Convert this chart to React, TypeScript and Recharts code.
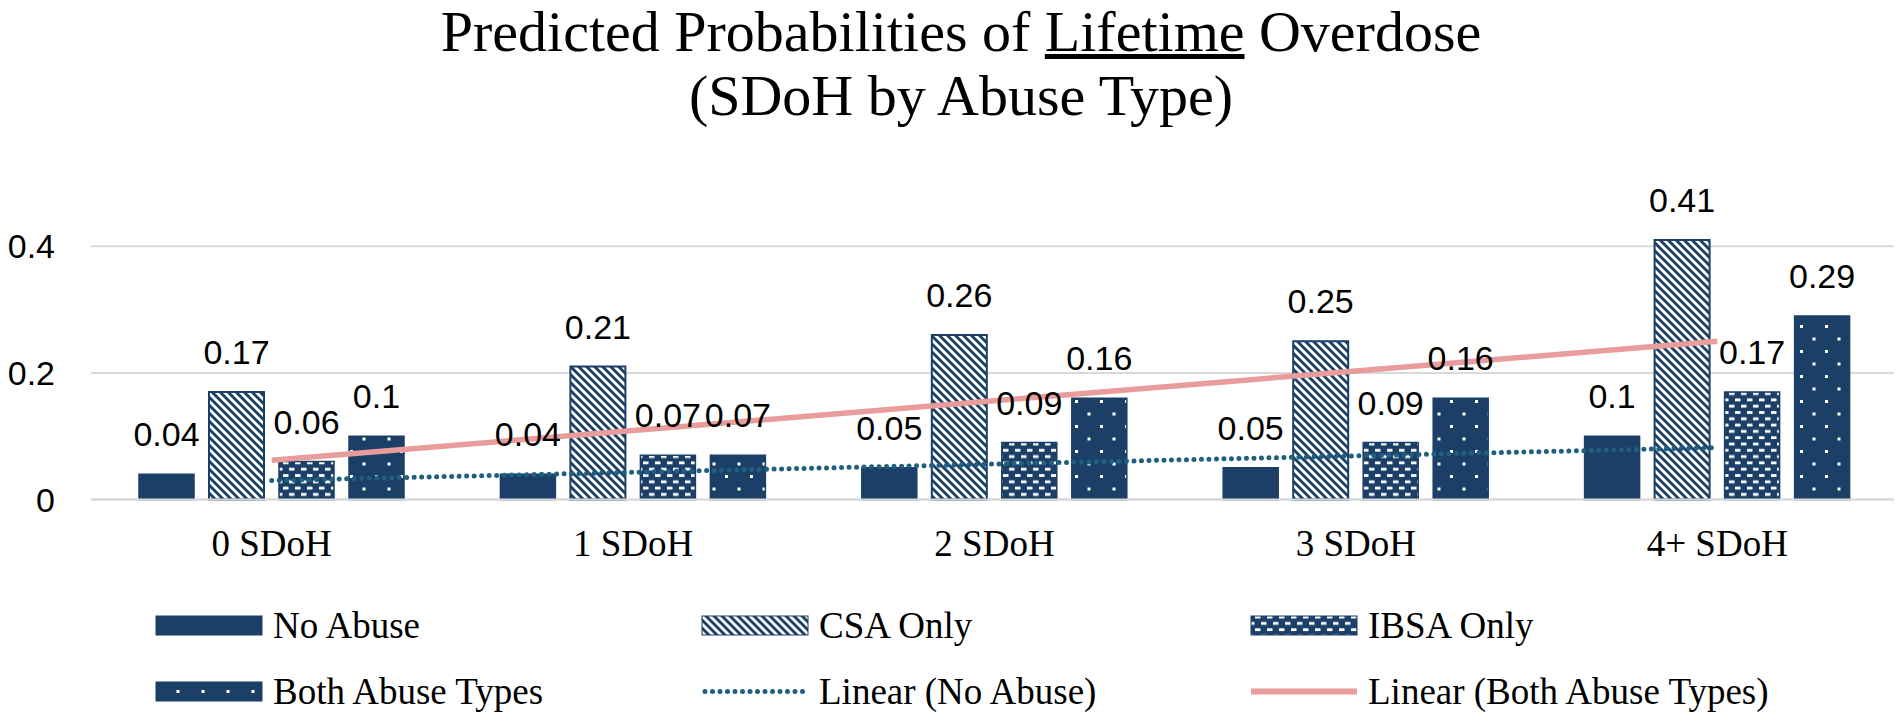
import React from "react";
import { ComposedChart, Bar, Line, XAxis, YAxis, CartesianGrid, Legend, LabelList } from "recharts";

// values
const categories = ["0 SDoH", "1 SDoH", "2 SDoH", "3 SDoH", "4+ SDoH"];
const noAbuse = [0.04, 0.04, 0.05, 0.05, 0.1];
const csaOnly = [0.17, 0.21, 0.26, 0.25, 0.41];
const ibsaOnly = [0.06, 0.07, 0.09, 0.09, 0.17];
const bothTypes = [0.1, 0.07, 0.16, 0.16, 0.29];
// Excel trendlines, read at each category centre
const linearNoAbuse = [0.03, 0.043, 0.056, 0.069, 0.082];
const linearBoth = [0.062, 0.109, 0.156, 0.203, 0.25];
const yTicks = [0, 0.2, 0.4];

const data = categories.map((name, i) => ({
  name,
  noAbuse: noAbuse[i],
  csaOnly: csaOnly[i],
  ibsaOnly: ibsaOnly[i],
  bothTypes: bothTypes[i],
  linearNoAbuse: linearNoAbuse[i],
  linearBoth: linearBoth[i],
}));

const NAVY = "#1b3f66";
const TEAL = "#1f5f80";
const PINK = "#e89c9c";
const GRID = "#d9d9d9";
const SERIF = "'Liberation Serif', 'Times New Roman', serif";
const SANS = "'Liberation Sans', Arial, sans-serif";

function Patterns({ suffix, dotX = 0, dotY = 0 }: { suffix: string; dotX?: number; dotY?: number }) {
  return (
    <defs>
      <pattern id={"csa" + suffix} width={8} height={8} patternUnits="userSpaceOnUse">
        <rect width={8} height={8} fill={NAVY} />
        <path d="M0,0 L8,8 M-4,4 L4,12 M4,-4 L12,4" stroke="#fff" strokeWidth={2.8} />
      </pattern>
      <pattern id={"ibsa" + suffix} width={12} height={12.6} patternUnits="userSpaceOnUse">
        <rect width={12} height={12.6} fill={NAVY} />
        <rect x={1} y={1.6} width={5.5} height={2.8} fill="#fff" />
        <rect x={7} y={7.9} width={5.5} height={2.8} fill="#fff" />
        <rect x={-5} y={7.9} width={5.5} height={2.8} fill="#fff" />
      </pattern>
      <pattern id={"both" + suffix} x={dotX} y={dotY} width={25} height={25} patternUnits="userSpaceOnUse">
        <rect width={25} height={25} fill={NAVY} />
        <rect x={0} y={0} width={3} height={3} fill="#fff" />
        <rect x={12.5} y={12.5} width={3} height={3} fill="#fff" />
      </pattern>
    </defs>
  );
}

const legendCols = [156, 702, 1251];
const legendRows = [55.5, 121.5];
const legendItems = [
  { label: "No Abuse", kind: "bar", fill: NAVY },
  { label: "CSA Only", kind: "bar", fill: "url(#csa-lg)" },
  { label: "IBSA Only", kind: "bar", fill: "url(#ibsa-lg)" },
  { label: "Both Abuse Types", kind: "bar", fill: "url(#both-lg)" },
  { label: "Linear (No Abuse)", kind: "dots", fill: TEAL },
  { label: "Linear (Both Abuse Types)", kind: "line", fill: PINK },
];

function ChartLegend() {
  return (
    <svg width={1898} height={153.5} style={{ display: "block" }}>
      <Patterns suffix="-lg" dotX={176.5} dotY={120} />
      {legendItems.map((item, i) => {
        const x = legendCols[i % 3];
        const cy = legendRows[Math.floor(i / 3)];
        return (
          <g key={item.label}>
            {item.kind === "bar" && (
              <rect x={x} y={cy - 9.5} width={106} height={19} fill={item.fill} stroke={NAVY} strokeWidth={1} />
            )}
            {item.kind === "dots" && (
              <line x1={x + 3} x2={x + 106} y1={cy} y2={cy} stroke={item.fill} strokeWidth={5}
                strokeDasharray="0 7.5" strokeLinecap="round" />
            )}
            {item.kind === "line" && (
              <line x1={x} x2={x + 106} y1={cy} y2={cy} stroke={item.fill} strokeWidth={6} />
            )}
            <text x={x + 117} y={cy + 12.5} fontFamily={SERIF} fontSize={37} fill="#000">
              {item.label}
            </text>
          </g>
        );
      })}
    </svg>
  );
}

const labelStyle = { fill: "#000", fontSize: 34, fontFamily: SANS };

const titleLine = {
  position: "absolute" as const,
  left: 0,
  width: 1882,
  paddingLeft: 20,
  textAlign: "center" as const,
  fontFamily: SERIF,
  fontSize: 58,
  lineHeight: "64px",
  color: "#000",
  whiteSpace: "nowrap" as const,
  zIndex: 2,
};

export default function App() {
  return (
    <div style={{ position: "relative", width: 1902, height: 723, margin: "-8px 0 0 -8px", background: "#fff", overflow: "hidden" }}>
      <div style={{ ...titleLine, top: 0 }}>
        Predicted Probabilities of <u>Lifetime</u> Overdose
      </div>
      <div style={{ ...titleLine, top: 63.5 }}>(SDoH by Abuse Type)</div>
      <ComposedChart
        width={1902}
        height={723}
        data={data}
        margin={{ top: 183, right: 4, left: 0, bottom: 0 }}
        barCategoryGap={48}
        barGap={15}
      >
        <Patterns suffix="" />
        <CartesianGrid vertical={false} horizontalValues={yTicks} stroke={GRID} strokeWidth={2} />
        <XAxis
          dataKey="name"
          height={70}
          axisLine={{ stroke: GRID, strokeWidth: 2 }}
          tickLine={false}
          tickSize={6}
          tickMargin={24}
          tick={{ fill: "#000", fontSize: 37, fontFamily: SERIF }}
        />
        <YAxis
          width={91}
          domain={[0, 0.5]}
          ticks={yTicks}
          axisLine={false}
          tickLine={false}
          tickSize={6}
          tickMargin={30}
          tick={{ fill: "#000", fontSize: 34, fontFamily: SANS }}
        />
        <Legend verticalAlign="bottom" content={() => <ChartLegend />} />
        <Bar dataKey="noAbuse" name="No Abuse" fill={NAVY} stroke={NAVY} strokeWidth={1.5} isAnimationActive={false}>
          <LabelList dataKey="noAbuse" position="top" offset={28} style={labelStyle} />
        </Bar>
        <Bar dataKey="csaOnly" name="CSA Only" fill="url(#csa)" stroke={NAVY} strokeWidth={2} isAnimationActive={false}>
          <LabelList dataKey="csaOnly" position="top" offset={28} style={labelStyle} />
        </Bar>
        <Bar dataKey="ibsaOnly" name="IBSA Only" fill="url(#ibsa)" stroke={NAVY} strokeWidth={1.5} isAnimationActive={false}>
          <LabelList dataKey="ibsaOnly" position="top" offset={28} style={labelStyle} />
        </Bar>
        <Bar dataKey="bothTypes" name="Both Abuse Types" fill="url(#both)" stroke={NAVY} strokeWidth={1.5} isAnimationActive={false}>
          <LabelList dataKey="bothTypes" position="top" offset={28} style={labelStyle} />
        </Bar>
        <Line
          dataKey="linearNoAbuse"
          name="Linear (No Abuse)"
          stroke={TEAL}
          strokeWidth={5}
          strokeDasharray="0 7.5"
          strokeLinecap="round"
          dot={false}
          activeDot={false}
          isAnimationActive={false}
        />
        <Line
          dataKey="linearBoth"
          name="Linear (Both Abuse Types)"
          stroke={PINK}
          strokeWidth={5.5}
          dot={false}
          activeDot={false}
          isAnimationActive={false}
        />
      </ComposedChart>
    </div>
  );
}
